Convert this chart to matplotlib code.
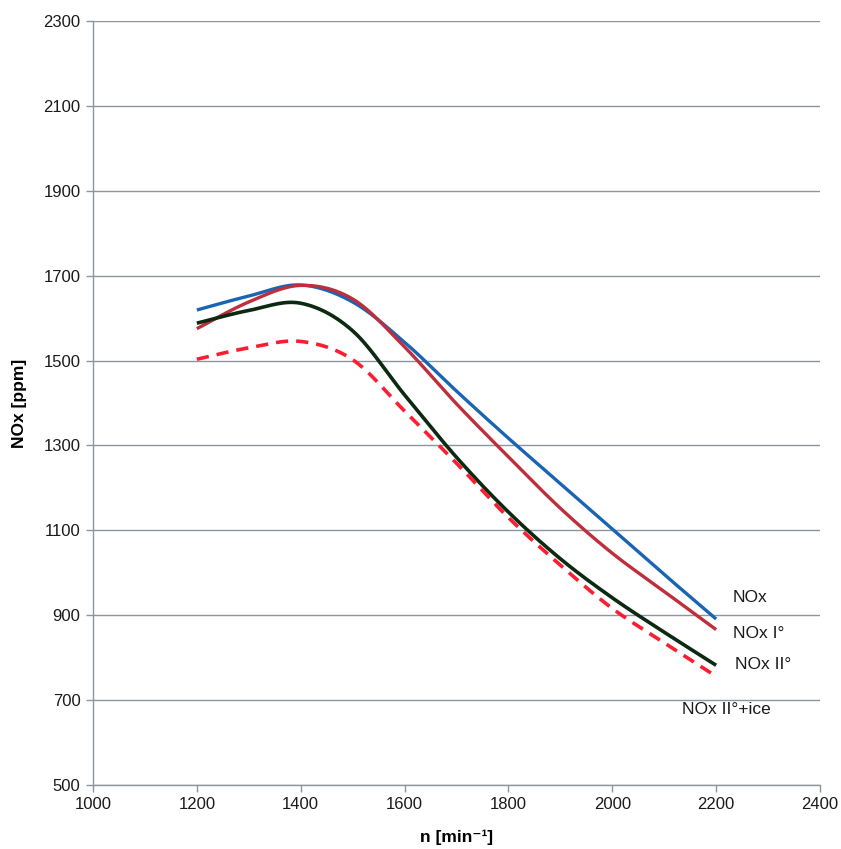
import numpy as np
import matplotlib
matplotlib.use('Agg')
from matplotlib import pyplot as plt

# engine speed [min^-1]
speed = [1200, 1300, 1400, 1500, 1600, 1700, 1800, 1900, 2000, 2100, 2200]

# NOx [ppm]
nox = [1619, 1652, 1678, 1638, 1543, 1428, 1317, 1210, 1103, 996, 891]
nox_1 = [1575, 1638, 1677, 1645, 1532, 1398, 1273, 1152, 1046, 956, 866]
nox_2 = [1588, 1618, 1635, 1570, 1419, 1272, 1143, 1033, 941, 860, 782]
nox_2_ice = [1503, 1530, 1545, 1502, 1381, 1258, 1130, 1018, 916, 835, 756]

series_names = ['NOx', 'NOx I°', 'NOx II°', 'NOx II°+ice']

plt.rcParams['font.family'] = ['Liberation Sans', 'DejaVu Sans']


def smooth(x, y, steps=30):
    # spreadsheet-style smoothed line (Catmull-Rom as cubic Bezier)
    x = np.asarray(x, float)
    y = np.asarray(y, float)
    px = np.concatenate([[x[0]], x, [x[-1]]])
    py = np.concatenate([[y[0]], y, [y[-1]]])
    xs, ys = [], []
    t = np.linspace(0, 1, steps)
    for i in range(1, len(px) - 2):
        p0 = np.array([px[i], py[i]])
        p3 = np.array([px[i + 1], py[i + 1]])
        c1 = p0 + (np.array([px[i + 1], py[i + 1]]) - np.array([px[i - 1], py[i - 1]])) / 6
        c2 = p3 - (np.array([px[i + 2], py[i + 2]]) - np.array([px[i], py[i]])) / 6
        b = ((1 - t) ** 3)[:, None] * p0 + (3 * (1 - t) ** 2 * t)[:, None] * c1 \
            + (3 * (1 - t) * t ** 2)[:, None] * c2 + (t ** 3)[:, None] * p3
        xs.extend(b[:, 0])
        ys.extend(b[:, 1])
    return xs, ys


fig = plt.figure(figsize=(8.41, 8.49), dpi=100)
ax = fig.add_axes([0.1106, 0.0754, 0.8644, 0.8999])

grid_col = '#8a959e'
ax.set_xlim(1000, 2400)
ax.set_ylim(500, 2300)
ax.set_xticks(range(1000, 2401, 200))
ax.set_yticks(range(500, 2301, 200))
ax.yaxis.grid(True, color=grid_col, linewidth=1.0)
ax.set_axisbelow(True)
for s in ['top', 'right']:
    ax.spines[s].set_visible(False)
for s in ['left', 'bottom']:
    ax.spines[s].set_color(grid_col)
    ax.spines[s].set_linewidth(1.0)
ax.tick_params(axis='both', direction='out', length=5, width=1, color=grid_col,
               labelsize=12, labelcolor='#1a1a1a', pad=4)

sx, sy = smooth(speed, nox)
ax.plot(sx, sy, color='#1a64b4', linewidth=2.4, solid_capstyle='butt')
sx, sy = smooth(speed, nox_1)
ax.plot(sx, sy, color='#bf2e3b', linewidth=2.4, solid_capstyle='butt')
sx, sy = smooth(speed, nox_2)
ax.plot(sx, sy, color='#0c2a12', linewidth=2.6, solid_capstyle='butt')
sx, sy = smooth(speed, nox_2_ice)
ax.plot(sx, sy, color='#fa1e32', linewidth=2.6, linestyle=(0, (3.4, 2.2)))

label_pos = [(2232, 942), (2232, 857), (2236, 785), (2135, 679)]
for name, (lx, ly) in zip(series_names, label_pos):
    ax.text(lx, ly, name, fontsize=12.5, va='center', ha='left', color='#1a1a1a')

ax.set_xlabel('n [min⁻¹]', fontsize=12.5, fontweight='bold', labelpad=12)
ax.set_ylabel('NOx [ppm]', fontsize=12.5, fontweight='bold', labelpad=12)

fig.savefig('out.png', dpi=100)
